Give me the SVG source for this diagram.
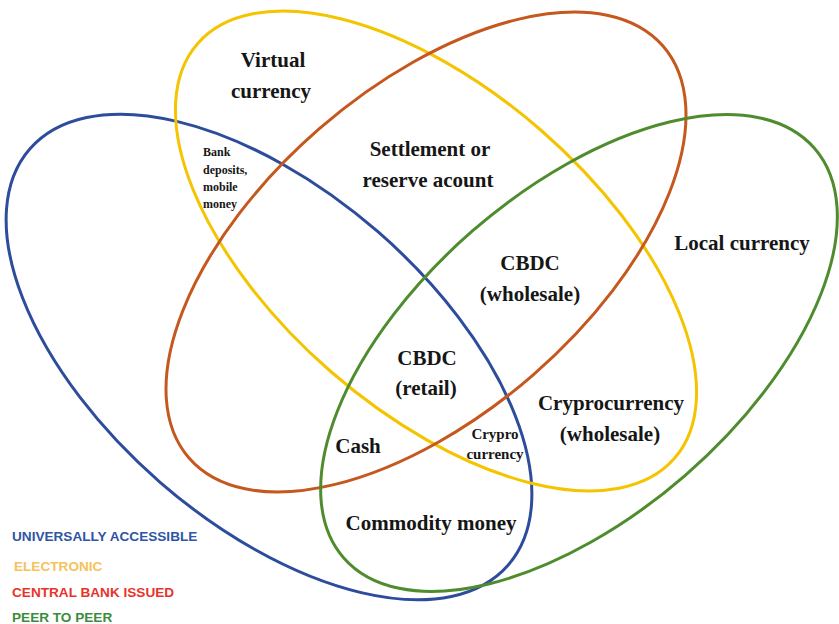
<svg xmlns="http://www.w3.org/2000/svg" width="839" height="624" viewBox="0 0 839 624">
<style>
.set{fill:none;stroke-width:3}
.lbl{font-family:"Liberation Serif","Times New Roman",serif;font-weight:bold;fill:#161616;text-anchor:middle}
.big{font-size:21px}
.mid{font-size:15px}
.sm{font-size:12px;text-anchor:start}
.leg{font-family:"Liberation Sans",Arial,sans-serif;font-weight:bold;font-size:13.6px}
</style>
<rect width="839" height="624" fill="#ffffff"/>
<g id="sets">
<g id="universally-accessible"><ellipse class="set" cx="269" cy="357" rx="317" ry="166" transform="rotate(41 269 357)" stroke="#2d4c9c"/></g>
<g id="electronic"><ellipse class="set" cx="436" cy="251" rx="316" ry="160" transform="rotate(41 436 251)" stroke="#f5c400"/></g>
<g id="central-bank-issued"><ellipse class="set" cx="426" cy="252" rx="314" ry="163" transform="rotate(-41 426 252)" stroke="#c4581e"/></g>
<g id="peer-to-peer"><ellipse class="set" cx="579" cy="353" rx="312" ry="162" transform="rotate(-41 579 353)" stroke="#4f8c2e"/></g>
</g>
<g id="virtual-currency"><text class="lbl big" x="273" y="67">Virtual</text><text class="lbl big" x="271" y="98">currency</text></g>
<g id="settlement"><text class="lbl big" x="430" y="156">Settlement or</text><text class="lbl big" x="428" y="187">reserve acount</text></g>
<g id="bank-deposits"><text class="lbl sm" x="203" y="156">Bank</text><text class="lbl sm" x="203" y="174">deposits,</text><text class="lbl sm" x="203" y="191">mobile</text><text class="lbl sm" x="203" y="208">money</text></g>
<g id="local-currency"><text class="lbl big" x="742" y="250">Local currency</text></g>
<g id="cbdc-wholesale"><text class="lbl big" x="530" y="270">CBDC</text><text class="lbl big" x="530" y="301">(wholesale)</text></g>
<g id="cbdc-retail"><text class="lbl big" x="427" y="365">CBDC</text><text class="lbl big" x="426" y="395">(retail)</text></g>
<g id="crypto-wholesale"><text class="lbl big" x="611" y="410">Cryprocurrency</text><text class="lbl big" x="610" y="441">(wholesale)</text></g>
<g id="cash"><text class="lbl big" x="358" y="453">Cash</text></g>
<g id="crypto"><text class="lbl mid" x="495" y="439">Crypro</text><text class="lbl mid" x="495" y="459">currency</text></g>
<g id="commodity-money"><text class="lbl big" x="431" y="530">Commodity money</text></g>
<g id="legend">
<text class="leg" x="12" y="541" fill="#2f55a4">UNIVERSALLY ACCESSIBLE</text>
<text class="leg" x="14" y="571" fill="#f6c259">ELECTRONIC</text>
<text class="leg" x="12" y="597" fill="#e8332a">CENTRAL BANK ISSUED</text>
<text class="leg" x="12" y="622" fill="#3c8c3c">PEER TO PEER</text>
</g>
</svg>
